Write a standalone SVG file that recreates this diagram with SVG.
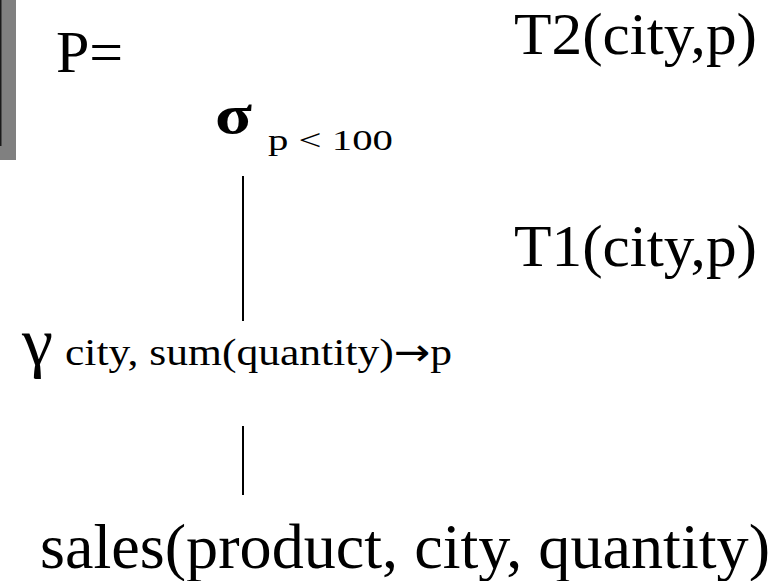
<svg xmlns="http://www.w3.org/2000/svg" width="782" height="581" viewBox="0 0 782 581">
<style>
.t{font-family:"Liberation Serif","Times New Roman",serif;fill:#000}
.c{stroke:#000;stroke-width:2;fill:none}
</style>
<rect x="0" y="0" width="782" height="581" fill="#fff"/>
<g id="sidebar">
<rect x="0" y="0" width="16" height="160" fill="#808080"/>
<rect x="0" y="0" width="1.5" height="146" fill="#1a1a1a"/>
</g>
<g id="label-P"><text class="t" x="56" y="72" font-size="60">P=</text></g>
<g id="label-T2"><text class="t" x="514" y="54" font-size="59" textLength="243" lengthAdjust="spacingAndGlyphs">T2(city,p)</text></g>
<g id="label-T1"><text class="t" x="514" y="266" font-size="59" textLength="243" lengthAdjust="spacingAndGlyphs">T1(city,p)</text></g>
<g id="node-select">
<text class="t" x="215" y="133" font-size="54" font-weight="bold" textLength="37" lengthAdjust="spacingAndGlyphs">σ</text>
<text class="t" x="268" y="150" font-size="30" textLength="125" lengthAdjust="spacingAndGlyphs">p &lt; 100</text>
</g>
<g id="node-group">
<text class="t" x="22" y="365" font-size="68" textLength="31" lengthAdjust="spacingAndGlyphs">γ</text>
<text class="t" x="65" y="365" font-size="38" textLength="387" lengthAdjust="spacingAndGlyphs">city, sum(quantity)<tspan font-family="DejaVu Sans">→</tspan>p</text>
</g>
<g id="node-sales"><text class="t" x="40" y="568" font-size="63" textLength="730" lengthAdjust="spacingAndGlyphs">sales(product, city, quantity)</text></g>
<g id="connectors">
<line class="c" x1="243" y1="176" x2="243" y2="321"/>
<line class="c" x1="243" y1="426" x2="243" y2="495"/>
</g>
</svg>
